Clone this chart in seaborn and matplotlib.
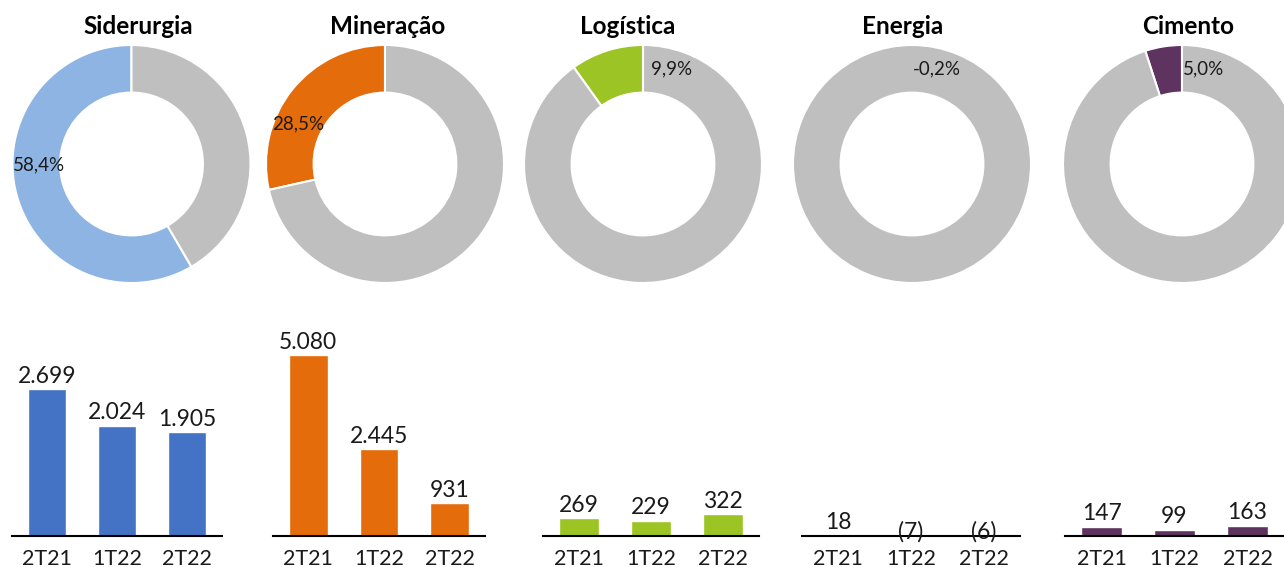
import matplotlib
matplotlib.use('Agg')
import matplotlib.pyplot as plt
import seaborn as sns

# dados
segmentos = ['Siderurgia', 'Mineração', 'Logística', 'Energia', 'Cimento']
trimestres = ['2T21', '1T22', '2T22']
participacao = [58.4, 28.5, 9.9, -0.2, 5.0]
siderurgia = [2699, 2024, 1905]
mineracao = [5080, 2445, 931]
logistica = [269, 229, 322]
energia = [18, -7, -6]
cimento = [147, 99, 163]
valores = [siderurgia, mineracao, logistica, energia, cimento]

# estilo
cor_barra = ['#4472C4', '#E46C0A', '#9BC424', '#F2B800', '#5F3360']
cor_rosca = ['#8DB4E2', '#E46C0A', '#9BC424', '#F2B800', '#5F3360']
cinza = '#BFBFBF'

sns.set_style('white')
plt.rcParams['font.family'] = ['Lato', 'DejaVu Sans']

W, H = 1284, 567
fig = plt.figure(figsize=(W / 100, H / 100), dpi=100)

# posicoes (pixels)
centro_x = [131.5, 385, 643, 912, 1182]
centro_y = 164
raio = 119
titulo_x = [138, 388, 628, 903, 1188]
rotulo_pos = [(-0.78, -0.01), (-0.73, 0.34), (0.24, 0.80), (0.21, 0.80), (0.18, 0.80)]
barra_x = [(12, 222), (273, 485), (543, 759), (802, 1020), (1065, 1284)]
barra_base, barra_topo = 536, 330
barra_ymax = [3780, 5787, 3075, 3100, 3220]

for i, seg in enumerate(segmentos):
    # rosca
    ax = fig.add_axes([(centro_x[i] - raio) / W, (H - centro_y - raio) / H,
                       2 * raio / W, 2 * raio / H])
    p = participacao[i]
    ax.pie([max(p, 0), 100 - max(p, 0)], colors=[cor_rosca[i], cinza],
           startangle=90, counterclock=True, radius=1,
           wedgeprops=dict(width=0.4, edgecolor='white', linewidth=1.5))
    ax.set_xlim(-1, 1)
    ax.set_ylim(-1, 1)
    ax.axis('off')
    txt = f'{p:.1f}%'.replace('.', ',')
    ax.text(rotulo_pos[i][0], rotulo_pos[i][1], txt, ha='center', va='center',
            fontsize=13.5, color='#1a1a1a')
    fig.text(titulo_x[i] / W, 1 - 27 / H, seg, ha='center', va='center',
             fontsize=17.5, fontweight='bold', color='black')

    # barras
    x0, x1 = barra_x[i]
    axb = fig.add_axes([x0 / W, (H - barra_base) / H, (x1 - x0) / W,
                        (barra_base - barra_topo) / H])
    sns.barplot(x=trimestres, y=valores[i], ax=axb, color=cor_barra[i],
                width=0.55, saturation=1)
    axb.set_xlim(-0.5, 2.5)
    axb.set_ylim(0, barra_ymax[i])
    axb.set_yticks([])
    axb.set_ylabel('')
    sns.despine(ax=axb, left=True)
    axb.spines['bottom'].set_color('black')
    axb.spines['bottom'].set_linewidth(1.5)
    axb.tick_params(axis='x', length=0, pad=9.5, labelsize=15.5, labelcolor='#1a1a1a')
    for j, v in enumerate(valores[i]):
        if v >= 0:
            lab = f'{v:,}'.replace(',', '.')
            axb.annotate(lab, xy=(j, v), xytext=(0, 4.5), textcoords='offset points',
                         ha='center', va='baseline', fontsize=16.5, color='#1a1a1a')
        else:
            lab = f'({abs(v)})'
            axb.annotate(lab, xy=(j, 0), xytext=(0, -1.5), textcoords='offset points',
                         ha='center', va='baseline', fontsize=16.5, color='#1a1a1a',
                         annotation_clip=False)

fig.savefig('out.png', dpi=100)
